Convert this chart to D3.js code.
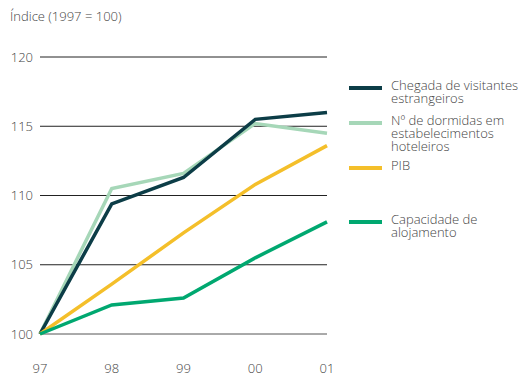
<!DOCTYPE html>
<html>
<head>
<meta charset="utf-8">
<script src="https://cdn.jsdelivr.net/npm/d3@7"></script>
<style>
  body { margin: 0; background: #fff; }
  text { font-family: "Open Sans", sans-serif; font-weight: 300; fill: #444; }
</style>
</head>
<body>
<script>
// year labels along x
var years = ["97", "98", "99", "00", "01"];
var yTicks = [100, 105, 110, 115, 120];

// series values, index 1997 = 100
var chegada = [100, 109.4, 111.3, 115.5, 116.0];
var dormidas = [100, 110.5, 111.6, 115.2, 114.5];
var pib = [100, 103.6, 107.3, 110.8, 113.6];
var capacidade = [100, 102.1, 102.6, 105.5, 108.1];

var seriesNames = [["Chegada de visitantes", "estrangeiros"],
                   ["N\u00ba de dormidas em", "estabelecimentos", "hoteleiros"],
                   ["PIB"],
                   ["Capacidade de", "alojamento"]];
var colors = ["#0c3d47", "#a6d7b8", "#f4bf2a", "#00a870"];

var series = [chegada, dormidas, pib, capacidade];

var width = 520, height = 376;
var svg = d3.select("body").append("svg")
  .attr("width", width)
  .attr("height", height);

var x = d3.scalePoint().domain(years).range([40, 327]);
var y = d3.scaleLinear().domain([100, 120]).range([334, 57]);

// title
svg.append("text")
  .attr("x", 10).attr("y", 21)
  .style("font-size", "13px")
  .text("\u00cdndice (1997 = 100)");

// grid lines
svg.append("g").selectAll("line")
  .data(yTicks)
  .enter().append("line")
  .attr("x1", 40).attr("x2", 327)
  .attr("y1", function(d) { return y(d); })
  .attr("y2", function(d) { return y(d); })
  .attr("stroke", function(d) { return d == 100 ? "#555" : "#222"; })
  .attr("stroke-width", 1);

// y labels
svg.append("g").selectAll("text")
  .data(yTicks)
  .enter().append("text")
  .attr("x", 33)
  .attr("y", function(d) { return y(d) + 4.5; })
  .attr("text-anchor", "end")
  .style("font-size", "13px")
  .text(function(d) { return d; });

// x labels
svg.append("g").selectAll("text")
  .data(years)
  .enter().append("text")
  .attr("x", function(d) { return x(d); })
  .attr("y", 373)
  .attr("text-anchor", "middle")
  .style("font-size", "13px")
  .text(function(d) { return d; });

var line = d3.line()
  .x(function(d, i) { return x(years[i]); })
  .y(function(d) { return y(d); });

// draw light green first so dark sits above where they cross
var order = [1, 0, 2, 3];
svg.append("g").selectAll("path")
  .data(order)
  .enter().append("path")
  .attr("d", function(k) { return line(series[k]); })
  .attr("fill", "none")
  .attr("stroke", function(k) { return colors[k]; })
  .attr("stroke-width", 3.5)
  .attr("stroke-linejoin", "miter");

// legend - one text block per entry, lines as tspans
var legendY = [88, 123, 168, 222];
var leg = svg.append("g");
seriesNames.forEach(function(lines, i) {
  leg.append("line")
    .attr("x1", 349).attr("x2", 382)
    .attr("y1", legendY[i]).attr("y2", legendY[i])
    .attr("stroke", colors[i])
    .attr("stroke-width", 4);
  var t = leg.append("text")
    .attr("x", 391)
    .attr("y", legendY[i] + 1.5)
    .style("font-size", "13px");
  lines.forEach(function(s, j) {
    t.append("tspan")
      .attr("x", 391)
      .attr("dy", j == 0 ? 0 : 13)
      .text(s);
  });
});
</script>
</body>
</html>
